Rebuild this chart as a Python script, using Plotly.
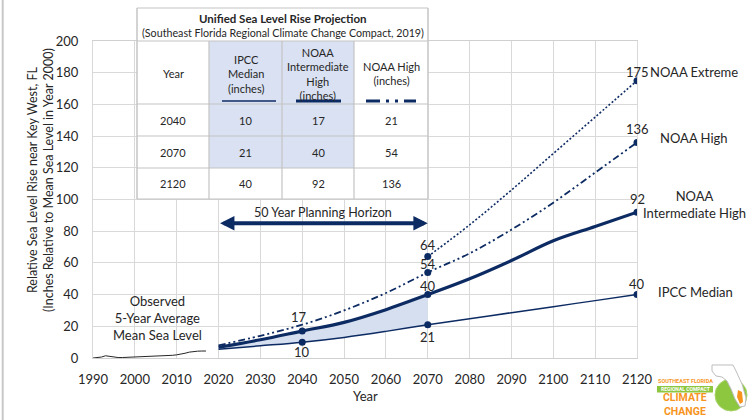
import plotly.graph_objects as go

# ---------------- data ----------------
obs_years = list(range(1990, 2018))
obs_vals = [0.0, 0.2, 0.6, 1.4, 1.0, 0.5, 0.3, 0.3, 0.4, 0.4, 0.5, 0.6, 0.7, 0.8,
            0.9, 1.0, 1.1, 1.3, 1.5, 1.7, 2.0, 2.4, 3.0, 3.7, 4.2, 4.3, 4.4, 4.4]

proj_years = [2020, 2030, 2040, 2050, 2060, 2070, 2080, 2090, 2100, 2110, 2120]
ipcc_median = [5.5, 7.7, 10, 13, 16.8, 21, 24.8, 28.6, 32.4, 36.2, 40]
noaa_int_high = [6.8, 11.5, 17, 22.5, 30.5, 40, 50, 61.5, 74, 83, 92]
noaa_high = [8, 14, 21, 30, 41, 54, 66, 81, 98, 117, 136]

extreme_years = [2070, 2080, 2090, 2100, 2110, 2120]
noaa_extreme = [64, 84, 106, 129, 152, 175]

table_years = [2040, 2070, 2120]
planning_start, planning_end = 2020, 2070

x_ticks = list(range(1990, 2121, 10))
y_ticks = list(range(0, 201, 20))

NAVY = "#0d2b63"
FONT = "Lato"
TXT = "#262626"

# ---------------- helpers ----------------
L, R, T, B = 93, 637, 41, 358
W, H = 750, 420


def px(x):
    return (x - L) / (R - L)


def py(y):
    return (B - y) / (B - T)


def val(years, vals, y):
    return vals[years.index(y)]


fig = go.Figure()

# shaded planning area between IPCC and Int High
idx = [i for i, y in enumerate(proj_years) if planning_start <= y <= planning_end]
fig.add_trace(go.Scatter(x=[proj_years[i] for i in idx], y=[ipcc_median[i] for i in idx],
                         mode="lines", line=dict(width=0, shape="spline"), showlegend=False,
                         hoverinfo="skip"))
fig.add_trace(go.Scatter(x=[proj_years[i] for i in idx], y=[noaa_int_high[i] for i in idx],
                         mode="lines", line=dict(width=0, shape="spline"), fill="tonexty",
                         fillcolor="#d6dff0", showlegend=False, hoverinfo="skip"))

# observed
fig.add_trace(go.Scatter(x=obs_years, y=obs_vals, mode="lines",
                         line=dict(color="#262626", width=1), showlegend=False))
# projections
fig.add_trace(go.Scatter(x=proj_years, y=ipcc_median, mode="lines",
                         line=dict(color=NAVY, width=1.5, shape="spline"), showlegend=False))
fig.add_trace(go.Scatter(x=proj_years, y=noaa_int_high, mode="lines",
                         line=dict(color=NAVY, width=3.2, shape="spline"), showlegend=False))
fig.add_trace(go.Scatter(x=proj_years, y=noaa_high, mode="lines",
                         line=dict(color=NAVY, width=1.8, shape="spline",
                                   dash="7px,3px,2px,3px,2px,3px"), showlegend=False))
fig.add_trace(go.Scatter(x=extreme_years, y=noaa_extreme, mode="lines",
                         line=dict(color=NAVY, width=1.6, shape="spline", dash="2px,2px"),
                         showlegend=False))

# markers
mx, my = [], []
for yr in [2040, 2070, 2120]:
    mx += [yr, yr]
    my += [val(proj_years, ipcc_median, yr), val(proj_years, noaa_int_high, yr)]
for yr in [2070, 2120]:
    mx += [yr, yr]
    my += [val(proj_years, noaa_high, yr), val(extreme_years, noaa_extreme, yr)]
fig.add_trace(go.Scatter(x=mx, y=my, mode="markers", marker=dict(color=NAVY, size=7),
                         showlegend=False))

ann = []
shapes = []


def label(x, y, text, yshift=0, xshift=0, size=13, xanchor="center"):
    ann.append(dict(x=x, y=y, xref="x", yref="y", text=text, showarrow=False,
                    yshift=yshift, xshift=xshift, xanchor=xanchor,
                    font=dict(family=FONT, size=size, color=TXT)))


def ptext(x, y, text, size=13, bold=False, color=TXT, xanchor="center", family=FONT, angle=0):
    if bold:
        text = "<b>" + text + "</b>"
    ann.append(dict(x=px(x), y=py(y), xref="paper", yref="paper", text=text, showarrow=False,
                    xanchor=xanchor, yanchor="middle", textangle=angle,
                    font=dict(family=family, size=size, color=color)))


# data labels
label(2040, val(proj_years, noaa_int_high, 2040), str(val(proj_years, noaa_int_high, 2040)), yshift=14, xshift=-3)
label(2040, val(proj_years, ipcc_median, 2040), str(val(proj_years, ipcc_median, 2040)), yshift=-10)
label(2070, val(proj_years, noaa_int_high, 2070), str(val(proj_years, noaa_int_high, 2070)), yshift=9)
label(2070, val(proj_years, noaa_high, 2070), str(val(proj_years, noaa_high, 2070)), yshift=8)
label(2070, val(extreme_years, noaa_extreme, 2070), str(val(extreme_years, noaa_extreme, 2070)), yshift=12)
label(2070, val(proj_years, ipcc_median, 2070), str(val(proj_years, ipcc_median, 2070)), yshift=-12)
label(2120, val(extreme_years, noaa_extreme, 2120), str(val(extreme_years, noaa_extreme, 2120)), yshift=9)
label(2120, val(proj_years, noaa_high, 2120), str(val(proj_years, noaa_high, 2120)), yshift=13)
label(2120, val(proj_years, noaa_int_high, 2120), str(val(proj_years, noaa_int_high, 2120)), yshift=13)
label(2120, val(proj_years, ipcc_median, 2120), str(val(proj_years, ipcc_median, 2120)), yshift=11)

# series names on right
ptext(694, 72, "NOAA Extreme")
ptext(694, 138, "NOAA High")
ptext(694, 204, "NOAA<br>Intermediate High")
ptext(695, 292, "IPCC Median")

# observed label
ptext(157, 318, "Observed<br>5-Year Average<br>Mean Sea Level")

# planning horizon arrow
ann.append(dict(x=planning_end, y=85, ax=planning_start, ay=85, xref="x", yref="y",
                axref="x", ayref="y", text="", showarrow=True, arrowside="end+start",
                arrowhead=2, arrowsize=0.72, arrowwidth=4, arrowcolor=NAVY, standoff=0,
                startstandoff=0, startarrowhead=2, startarrowsize=0.72))
ann.append(dict(x=(planning_start + planning_end) / 2, y=85, xref="x", yref="y",
                text=f"{planning_end - planning_start} Year Planning Horizon", showarrow=False,
                yshift=11, font=dict(family=FONT, size=12.5, color=TXT)))

# axis titles
ptext(40, 180, "Relative Sea Level Rise near Key West, FL<br>(Inches Relative to Mean Sea Level in Year 2000)",
      size=12.5, angle=-90)
ptext(365, 396, "Year", size=13)

# ---------------- table ----------------
xs = [137, 209, 282, 354, 428]
ys = [8, 41, 104, 136, 168, 199]
GRID = "#c4c4c4"


def rect(x0, y0, x1, y1, fill, line=None):
    shapes.append(dict(type="rect", xref="paper", yref="paper", x0=px(x0), x1=px(x1),
                       y0=py(y1), y1=py(y0), fillcolor=fill, layer="above",
                       line=dict(width=0) if line is None else line))


def seg(x0, y0, x1, y1, color=GRID, width=1.2, dash=None):
    d = dict(color=color, width=width)
    if dash:
        d["dash"] = dash
    shapes.append(dict(type="line", xref="paper", yref="paper", x0=px(x0), x1=px(x1),
                       y0=py(y0), y1=py(y1), line=d, layer="above"))


rect(xs[0], ys[0], xs[-1], ys[-1], "white")
rect(xs[1], ys[1], xs[3], ys[4], "#d9e1f2")
for yy in ys:
    seg(xs[0], yy, xs[-1], yy)
seg(xs[0], ys[0], xs[0], ys[-1], width=1.5)
seg(xs[-1], ys[0], xs[-1], ys[-1], width=1.5)
for xx in xs[1:-1]:
    seg(xx, ys[1], xx, ys[-1])

# header line samples
seg(222, 101, 276, 101, color=NAVY, width=1.5)
seg(296, 101, 341, 101, color=NAVY, width=3)
seg(366, 101, 416, 101, color=NAVY, width=3, dash="14px,6px,3px,6px,3px,6px")

TS = 11
ptext(282.5, 18, "Unified Sea Level Rise Projection", size=11.5, bold=True)
ptext(282.5, 33, "(Southeast Florida Regional Climate Change Compact, 2019)", size=10.7)
ptext(173, 73, "Year", size=TS)
ptext(245.5, 74, "IPCC<br>Median<br>(inches)", size=TS)
ptext(318, 74, "NOAA<br>Intermediate<br>High<br>(inches)", size=TS)
ptext(391, 73, "NOAA High<br>(inches)", size=TS)
cols = [(245.5, proj_years, ipcc_median), (318, proj_years, noaa_int_high), (391, proj_years, noaa_high)]
for r, yr in enumerate(table_years):
    yc = (ys[r + 2] + ys[r + 3]) / 2
    ptext(173, yc, str(yr), size=TS)
    for cx, yrs, vals in cols:
        ptext(cx, yc, str(val(yrs, vals, yr)), size=TS)

# ---------------- left border ----------------
shapes.append(dict(type="line", xref="paper", yref="paper", x0=px(2.7), x1=px(2.7),
                   y0=py(420), y1=py(0), line=dict(color="#c8c8c8", width=2), layer="above"))

# ---------------- logo ----------------
ORANGE = "#f7941d"
GREEN = "#8dc63f"
shapes.append(dict(type="circle", xref="paper", yref="paper", x0=px(715), x1=px(747),
                   y0=py(411), y1=py(379), fillcolor=GREEN, line=dict(color="#a9d46a", width=1),
                   layer="above"))
fl = [(712, 365), (733, 365), (736, 371), (742, 384), (746, 398), (745, 406), (740, 407),
      (735, 399), (731, 389), (727, 381), (722, 377), (716, 376), (712, 371)]
path = "M " + " L ".join(f"{px(a):.5f},{py(b):.5f}" for a, b in fl) + " Z"
shapes.append(dict(type="path", xref="paper", yref="paper", path=path, fillcolor="white",
                   line=dict(color="#bdbdbd", width=1), layer="above"))
org = [(738, 390), (742, 392), (743, 402), (740, 404), (737, 397)]
path2 = "M " + " L ".join(f"{px(a):.5f},{py(b):.5f}" for a, b in org) + " Z"
shapes.append(dict(type="path", xref="paper", yref="paper", path=path2, fillcolor=ORANGE,
                   line=dict(width=0), layer="above"))
rect(657, 386, 713, 392.5, GREEN)
ptext(685, 381, "SOUTHEAST FLORIDA", size=5.5, bold=True, color=ORANGE, family="Roboto")
ptext(685, 389.3, "REGIONAL COMPACT", size=5, bold=True, color="white", family="Roboto")
ptext(685, 404.5, "CLIMATE<br>CHANGE", size=10.5, bold=True, color=ORANGE, family="Roboto")

fig.update_layout(
    width=W, height=H,
    margin=dict(l=L, r=W - R, t=T, b=H - B, autoexpand=False),
    paper_bgcolor="white", plot_bgcolor="white",
    font=dict(family=FONT, size=13, color=TXT),
    xaxis=dict(range=[x_ticks[0], x_ticks[-1]], tickvals=x_ticks, showgrid=True,
               gridcolor="#d9d9d9", gridwidth=1, zeroline=False, showline=True, mirror=True,
               linecolor="#d0d0d0", linewidth=1, ticks="", ticklabelstandoff=9,
               tickfont=dict(family=FONT, size=13, color=TXT)),
    yaxis=dict(range=[y_ticks[0], y_ticks[-1]], tickvals=y_ticks, showgrid=True,
               gridcolor="#d9d9d9", gridwidth=1, zeroline=False, showline=True, mirror=True,
               linecolor="#d9d9d9", linewidth=1, ticks="", ticklabelstandoff=11,
               tickfont=dict(family=FONT, size=13, color=TXT)),
    annotations=ann, shapes=shapes, showlegend=False,
)

fig.write_html("out.html", config={"displayModeBar": False},
               post_script="document.body.style.margin='0';document.body.style.overflow='hidden';")
